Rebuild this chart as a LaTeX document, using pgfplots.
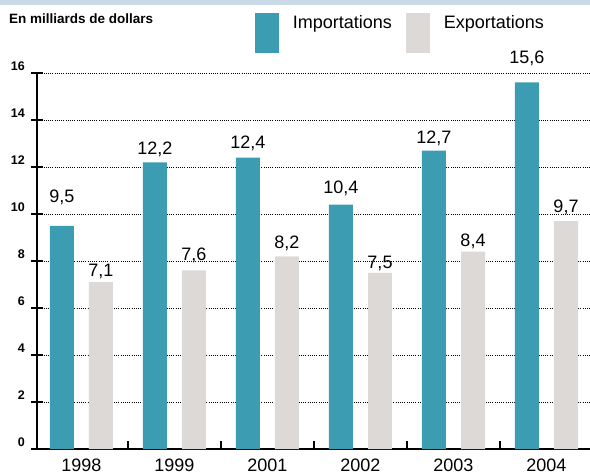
\documentclass[border=0pt]{standalone}
\usepackage{fontspec}
\setmainfont{Liberation Sans}
\usepackage{pgfplots}
\pgfplotsset{compat=1.18}
\usepackage{pgfplotstable}
\definecolor{imp}{HTML}{3C9DB2}
\definecolor{expc}{HTML}{DDD9D6}
\definecolor{band}{HTML}{C9D9E6}

% off = extra lift of the value label above the bar top (pt)
\pgfplotstableread{
x y off
0 9.5 21
1 12.2 5
2 12.4 7
3 10.4 9
4 12.7 5
5 15.6 16
}\imports
\pgfplotstableread{
x y off
0 7.1 3
1 7.6 7
2 8.2 5
3 7.5 2
4 8.4 3
5 9.7 6
}\exports

\begin{document}
\begin{tikzpicture}[x=1pt,y=1pt]
\path[use as bounding box] (0,0) rectangle (590,475);
\fill[band] (0,470) rectangle (590,475);
\node[anchor=west, inner sep=0pt, font=\fontsize{13.5}{15}\selectfont\bfseries] at (9,456.5) {En milliards de dollars};
\begin{axis}[
  at={(37pt,26pt)}, anchor=south west,
  scale only axis, width=553pt, height=376pt,
  xmin=-0.478, xmax=5.468, ymin=0, ymax=16,
  axis lines*=left,
  axis line style={line width=1.3pt, black},
  ybar, bar width=0.258,
  ytick={0,2,...,16},
  ymajorgrids,
  grid style={black, line width=1pt, dash pattern=on 1pt off 1.2pt},
  tick align=center,
  major tick length=12pt,
  ytick style={black, line width=1.2pt},
  xtick={0,...,5},
  xticklabels={1998,1999,2001,2002,2003,2004},
  xtick style={draw=none},
  extra x ticks={0.5,1.5,2.5,3.5,4.5},
  extra x tick labels={},
  extra x tick style={xtick style={draw=black, line width=1.3pt}, major tick length=8pt, tick align=inside},
  /pgf/number format/assume math mode=true,
  /pgf/number format/use comma,
  /pgf/number format/fixed,
  /pgf/number format/fixed zerofill,
  /pgf/number format/precision=1,
  yticklabel style={font=\fontsize{12.5}{12.5}\selectfont\bfseries, anchor=south east, inner sep=0pt, xshift=-6pt, yshift=2.5pt, /pgf/number format/precision=0, /pgf/number format/fixed zerofill=false},
  xticklabel style={font=\fontsize{18}{18}\selectfont, anchor=north, inner sep=0pt, yshift=-4pt},
  nodes near coords,
  nodes near coords style={font=\fontsize{18}{18}\selectfont, inner sep=0pt},
  legend style={at={(0.394,1.1596)}, anchor=north west, draw=none, fill=none,
     inner sep=0pt, outer sep=0pt, font=\fontsize{18}{18}\selectfont,
     /tikz/every odd column/.style={column sep=14pt},
     /tikz/every even column/.style={column sep=14pt},
     nodes={inner sep=0pt}},
  legend columns=2,
]
\addplot[fill=imp, draw=none, bar shift=-0.21,
   visualization depends on={\thisrow{off}\as\off},
   every node near coord/.append style={yshift=\off},
   legend image code/.code={\fill[imp] (0pt,-30pt) rectangle (24pt,10pt);}]
   table[x=x,y=y]{\imports};
\addlegendentry{Importations}
\addplot[fill=expc, draw=none, bar shift=0.21,
   visualization depends on={\thisrow{off}\as\off},
   every node near coord/.append style={yshift=\off},
   legend image code/.code={\fill[expc] (0pt,-30pt) rectangle (24pt,10pt);}]
   table[x=x,y=y]{\exports};
\addlegendentry{Exportations}
\end{axis}
\end{tikzpicture}
\end{document}
